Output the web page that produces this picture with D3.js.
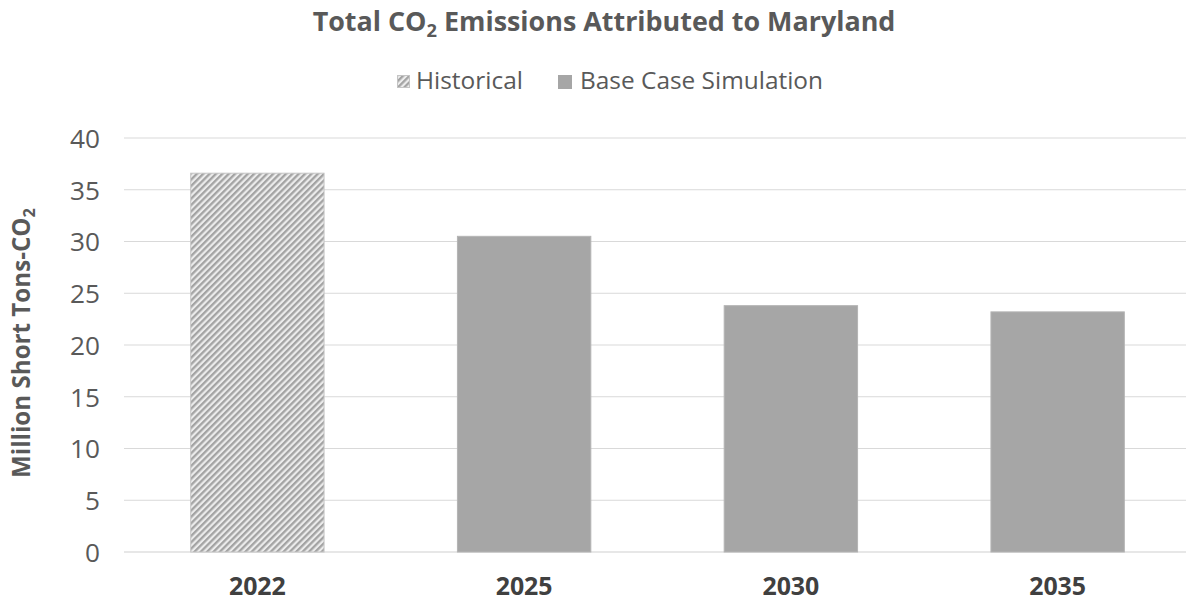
<!DOCTYPE html>
<html>
<head>
<meta charset="utf-8">
<script src="https://cdn.jsdelivr.net/npm/d3@7"></script>
<style>
  html, body { margin: 0; padding: 0; background: #fff; }
  svg { display: block; font-family: "Open Sans", Roboto, sans-serif; }
</style>
</head>
<body>
<svg id="chart" width="1186" height="602"></svg>
<script>
// Total CO2 emissions, million short tons
const years = ["2022", "2025", "2030", "2035"];
const emissions = [36.6, 30.5, 23.8, 23.2];
const seriesOf = ["Historical", "Base Case Simulation", "Base Case Simulation", "Base Case Simulation"];
const yTicks = [0, 5, 10, 15, 20, 25, 30, 35, 40];

const W = 1186;
const left = 124, right = 1191;
const svg = d3.select("#chart");
const textColor = "#595959";
const barColor = "#a6a6a6";

// Scale a text element's font size so its rendered width equals `target`
function fitWidth(node, target) {
  const el = d3.select(node);
  const size = parseFloat(el.style("font-size"));
  const w = node.getComputedTextLength();
  if (w > 0) el.style("font-size", (size * target / w) + "px");
}

const x = d3.scaleBand()
  .domain(years)
  .range([left, right])
  .paddingInner(0.5)
  .paddingOuter(0.25);

const y = d3.scaleLinear()
  .domain([0, 40])
  .range([552, 138]);

// Diagonal hatch for the historical bar
const defs = svg.append("defs");
const pat = defs.append("pattern")
  .attr("id", "hatch")
  .attr("patternUnits", "userSpaceOnUse")
  .attr("width", 4.5).attr("height", 4.5)
  .attr("patternTransform", "rotate(45)");
pat.append("rect").attr("width", 4.5).attr("height", 4.5).attr("fill", "#ececec");
pat.append("rect").attr("width", 2.3).attr("height", 4.5).attr("fill", "#a3a3a3");

// Gridlines
svg.append("g")
  .selectAll("line")
  .data(yTicks)
  .join("line")
  .attr("x1", left).attr("x2", W)
  .attr("y1", d => y(d)).attr("y2", d => y(d))
  .attr("stroke", d => d === 0 ? "#d0d0d0" : "#d9d9d9")
  .attr("stroke-width", 1.2);

// Y axis tick labels
const yAxis = d3.axisLeft(y).tickValues(yTicks).tickSize(0).tickPadding(0);
const gy = svg.append("g").attr("transform", `translate(100,0)`).call(yAxis);
gy.select(".domain").remove();
gy.selectAll("text")
  .attr("fill", textColor)
  .attr("dy", "0.36em")
  .style("font-size", "24px")
  .style("font-family", "'Open Sans', sans-serif");
fitWidth(gy.selectAll("text").filter(d => d === 40).node(), 30);
const tickSize = gy.selectAll("text").filter(d => d === 40).style("font-size");
gy.selectAll("text").style("font-size", tickSize);

// Bars
svg.append("g")
  .selectAll("rect")
  .data(years)
  .join("rect")
  .attr("x", d => x(d))
  .attr("width", x.bandwidth())
  .attr("y", (d, i) => y(emissions[i]))
  .attr("height", (d, i) => y(0) - y(emissions[i]))
  .attr("fill", (d, i) => seriesOf[i] === "Historical" ? "url(#hatch)" : barColor)
  .attr("stroke", (d, i) => seriesOf[i] === "Historical" ? "#c4c4c4" : "#b4b4b4")
  .attr("stroke-width", 1);

// X axis labels
const xAxis = d3.axisBottom(x).tickSize(0).tickPadding(0);
const gx = svg.append("g").attr("transform", `translate(0,${y(0)})`).call(xAxis);
gx.select(".domain").remove();
gx.selectAll("text")
  .attr("fill", "#404040")
  .attr("dy", null)
  .attr("y", 43)
  .style("font-size", "24px")
  .style("font-weight", "bold")
  .style("font-family", "'Open Sans', sans-serif");
fitWidth(gx.select("text").node(), 57);
gx.selectAll("text").style("font-size", gx.select("text").style("font-size"));

// Title
const title = svg.append("text")
  .attr("x", 604).attr("y", 31)
  .attr("text-anchor", "middle")
  .attr("fill", textColor)
  .style("font-size", "26px")
  .style("font-weight", "bold");
title.append("tspan").text("Total CO");
title.append("tspan").text("2").attr("dy", 6).style("font-size", "0.68em");
title.append("tspan").text(" Emissions Attributed to Maryland").attr("dy", -6);
fitWidth(title.node(), 583);

// Legend
const legend = svg.append("g");
legend.append("rect").attr("x", 397.5).attr("y", 75.5).attr("width", 12).attr("height", 12)
  .attr("fill", "url(#hatch)").attr("stroke", "#c4c4c4");
const lt1 = legend.append("text").attr("x", 416).attr("y", 89).text("Historical")
  .attr("fill", textColor).style("font-size", "21px");
fitWidth(lt1.node(), 107);
legend.append("rect").attr("x", 558).attr("y", 75).attr("width", 14).attr("height", 14)
  .attr("fill", barColor);
const lt2 = legend.append("text").attr("x", 580).attr("y", 89).text("Base Case Simulation")
  .attr("fill", textColor).style("font-size", "21px");
fitWidth(lt2.node(), 243);

// Y axis title
const yt = svg.append("text")
  .attr("transform", "translate(30,343) rotate(-90)")
  .attr("text-anchor", "middle")
  .attr("fill", textColor)
  .style("font-size", "20px")
  .style("font-weight", "bold");
yt.append("tspan").text("Million Short Tons-CO");
yt.append("tspan").text("2").attr("dy", 5).style("font-size", "0.68em");
fitWidth(yt.node(), 270);
</script>
</body>
</html>
